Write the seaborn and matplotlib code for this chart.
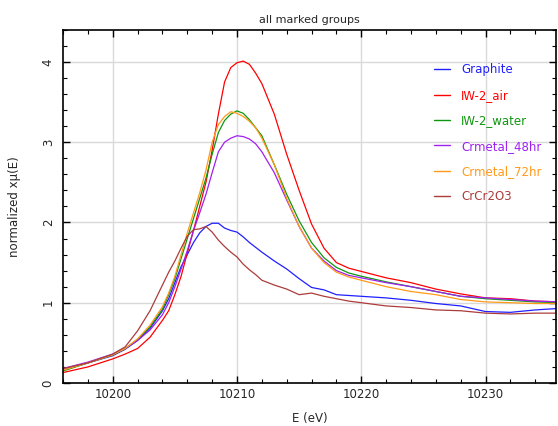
import numpy as np
import pandas as pd
import matplotlib
matplotlib.use("Agg")
import matplotlib.pyplot as plt
from matplotlib.ticker import MultipleLocator
import seaborn as sns

# Energy grid (eV) shared by all groups
energy = [10196, 10198, 10200, 10201, 10202, 10203, 10204, 10204.5, 10205, 10205.5,
          10206, 10206.5, 10207, 10207.5, 10208, 10208.5, 10209, 10209.5, 10210, 10210.5,
          10211, 10211.5, 10212, 10213, 10214, 10215, 10216, 10217, 10218, 10219,
          10220, 10222, 10224, 10226, 10228, 10230, 10232, 10234, 10236]

graphite = [0.16, 0.25, 0.34, 0.42, 0.53, 0.68, 0.90, 1.05, 1.25, 1.45,
            1.60, 1.75, 1.87, 1.95, 1.99, 1.99, 1.93, 1.90, 1.88, 1.82,
            1.75, 1.69, 1.63, 1.52, 1.42, 1.30, 1.19, 1.16, 1.10, 1.09,
            1.08, 1.06, 1.03, 0.99, 0.96, 0.89, 0.88, 0.91, 0.93]
iw2_air = [0.13, 0.20, 0.30, 0.36, 0.43, 0.57, 0.78, 0.90, 1.10, 1.33,
           1.62, 1.90, 2.20, 2.50, 2.90, 3.35, 3.75, 3.93, 3.99, 4.01,
           3.97, 3.86, 3.73, 3.35, 2.85, 2.40, 1.98, 1.68, 1.50, 1.43,
           1.39, 1.31, 1.25, 1.17, 1.11, 1.06, 1.05, 1.02, 1.01]
iw2_water = [0.15, 0.25, 0.35, 0.43, 0.54, 0.70, 0.92, 1.10, 1.30, 1.55,
             1.80, 2.05, 2.30, 2.55, 2.85, 3.12, 3.27, 3.35, 3.39, 3.36,
             3.28, 3.18, 3.08, 2.72, 2.35, 2.02, 1.75, 1.56, 1.44, 1.37,
             1.33, 1.26, 1.20, 1.14, 1.08, 1.05, 1.03, 1.01, 1.00]
crmetal_48 = [0.18, 0.26, 0.36, 0.43, 0.53, 0.66, 0.85, 1.00, 1.20, 1.42,
              1.65, 1.90, 2.12, 2.35, 2.62, 2.88, 3.00, 3.05, 3.08, 3.07,
              3.04, 2.98, 2.88, 2.62, 2.28, 1.95, 1.68, 1.52, 1.40, 1.34,
              1.31, 1.25, 1.20, 1.14, 1.08, 1.06, 1.04, 1.02, 1.01]
crmetal_72 = [0.16, 0.25, 0.35, 0.43, 0.55, 0.72, 0.95, 1.12, 1.33, 1.60,
              1.87, 2.12, 2.37, 2.65, 3.00, 3.22, 3.32, 3.38, 3.36, 3.32,
              3.26, 3.18, 3.05, 2.72, 2.30, 1.95, 1.68, 1.50, 1.38, 1.32,
              1.28, 1.20, 1.14, 1.10, 1.04, 1.01, 1.00, 0.99, 0.99]
crcr2o3 = [0.18, 0.25, 0.36, 0.45, 0.65, 0.90, 1.22, 1.38, 1.52, 1.68,
           1.83, 1.91, 1.92, 1.95, 1.88, 1.78, 1.70, 1.63, 1.57, 1.48,
           1.41, 1.35, 1.28, 1.22, 1.17, 1.10, 1.12, 1.08, 1.05, 1.02,
           1.00, 0.96, 0.94, 0.91, 0.90, 0.87, 0.86, 0.87, 0.87]

groups = ["Graphite", "IW-2_air", "IW-2_water", "Crmetal_48hr", "Crmetal_72hr", "CrCr2O3"]
series = [graphite, iw2_air, iw2_water, crmetal_48, crmetal_72, crcr2o3]
colors = ["#2020ff", "#ff0000", "#0f960f", "#a020f0", "#ff9a1a", "#ac3c3c"]

df = pd.concat([pd.DataFrame({"E": energy, "mu": s, "group": g})
                for g, s in zip(groups, series)], ignore_index=True)

sns.set_theme(style="white")
plt.rcParams["font.family"] = ["DejaVu Sans"]

fig = plt.figure(figsize=(5.58, 4.26), dpi=100)
ax = fig.add_axes([0.113, 0.101, 0.884, 0.829])

sns.lineplot(data=df, x="E", y="mu", hue="group", hue_order=groups,
             palette=colors, linewidth=0.9, ax=ax, sort=False)

ax.set_xlim(10196, 10235.7)
ax.set_ylim(0, 4.4)
ax.xaxis.set_major_locator(MultipleLocator(10))
ax.xaxis.set_minor_locator(MultipleLocator(2))
ax.yaxis.set_major_locator(MultipleLocator(1))
ax.yaxis.set_minor_locator(MultipleLocator(0.2))
ax.grid(True, which="major", color="#d9d9d9", linewidth=1.0)
ax.set_axisbelow(True)

for sp in ax.spines.values():
    sp.set_color("black")
    sp.set_linewidth(1.2)

ax.tick_params(which="both", direction="in", top=True, right=True,
               bottom=True, left=True, color="black", labelsize=8.5)
ax.tick_params(which="major", length=5, width=1)
ax.tick_params(which="minor", length=3, width=0.8)
ax.tick_params(axis="y", labelrotation=90, pad=6)
for lbl in ax.get_yticklabels():
    lbl.set_va("center")

ax.set_xlabel("E (eV)", fontsize=8.5, labelpad=8)
ax.set_ylabel("normalized x\u03bc(E)", fontsize=8.5, labelpad=15)
ax.set_title("all marked groups", fontsize=8, pad=5)

leg = ax.legend(loc="upper left", bbox_to_anchor=(0.73, 0.935), frameon=False,
                fontsize=8.5, labelcolor="linecolor", handlelength=1.4,
                handletextpad=0.9, labelspacing=1.05)
for h in leg.get_lines():
    h.set_linewidth(1.0)

fig.savefig("out.png", dpi=100)
